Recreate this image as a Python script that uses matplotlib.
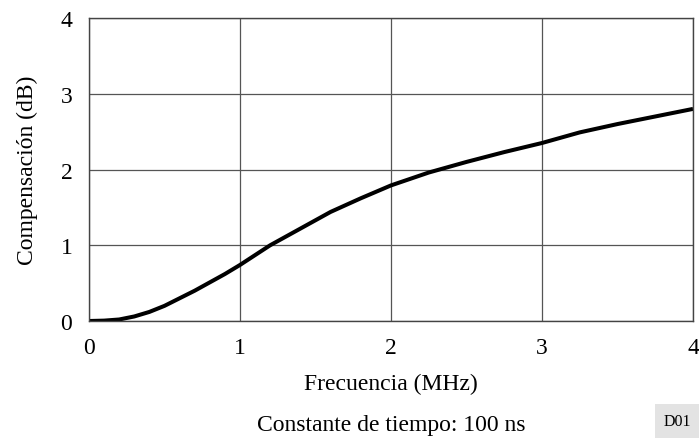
import matplotlib
matplotlib.use("Agg")
import matplotlib.pyplot as plt

plt.rcParams['font.family'] = ['Liberation Serif', 'DejaVu Serif']

# frequency (MHz) and compensation (dB)
freq = [0.0, 0.1, 0.2, 0.3, 0.4, 0.5, 0.6, 0.7, 0.8, 0.9, 1.0, 1.1, 1.2,
        1.4, 1.6, 1.8, 2.0, 2.25, 2.5, 2.75, 3.0, 3.25, 3.5, 3.75, 4.0]
comp = [0.0, 0.005, 0.02, 0.06, 0.12, 0.2, 0.3, 0.4, 0.51, 0.62, 0.74, 0.87,
        1.0, 1.22, 1.44, 1.62, 1.79, 1.96, 2.10, 2.23, 2.35, 2.49, 2.60,
        2.70, 2.80]

xticks = [0, 1, 2, 3, 4]
yticks = [0, 1, 2, 3, 4]

fig = plt.figure(figsize=(6.99, 4.39), dpi=100)
ax = fig.add_axes([0.1273, 0.2665, 0.8641, 0.6902])

ax.plot(freq, comp, color='black', lw=2.9, solid_capstyle='butt',
        solid_joinstyle='round')

ax.set_xlim(0, 4)
ax.set_ylim(0, 4)
ax.set_xticks(xticks)
ax.set_yticks(yticks)
ax.grid(True, color='#555555', lw=0.9)
ax.tick_params(length=0, labelsize=17)
ax.tick_params(axis='y', pad=12)
ax.tick_params(axis='x', pad=11.5)
for sp in ax.spines.values():
    sp.set_color('#444444')
    sp.set_linewidth(1.0)

ax.set_xlabel('Frecuencia (MHz)', fontsize=17, labelpad=10.5)
ax.set_ylabel('Compensación (dB)', fontsize=17, labelpad=16)

fig.text(0.56, 0.0182, 'Constante de tiempo: 100 ns', ha='center',
         va='baseline', fontsize=17)
fig.text(0.9695, 0.039, 'D01', ha='center', va='center', fontsize=11.5,
         bbox=dict(boxstyle='square,pad=0.55', fc='#e3e3e3', ec='none'))

fig.savefig('out.png', dpi=100)
